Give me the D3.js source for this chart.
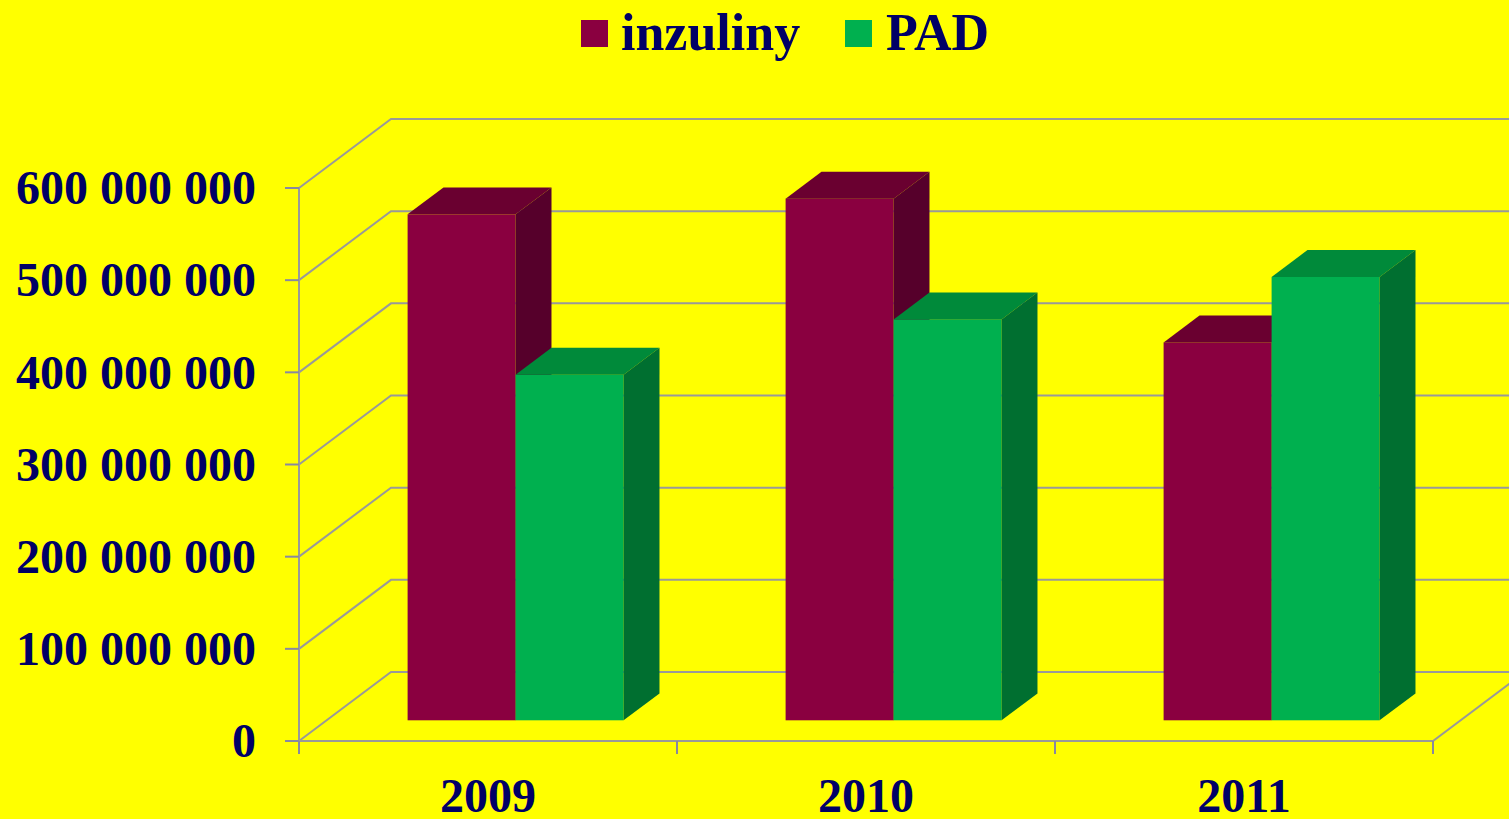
<!DOCTYPE html>
<html>
<head>
<meta charset="utf-8">
<script src="https://cdn.jsdelivr.net/npm/d3@7"></script>
<style>
  html, body { margin: 0; padding: 0; background: #ffff00; }
  #canvas { width: 1509px; height: 819px; }
  text { font-family: "Liberation Serif", "Times New Roman", serif; font-weight: bold; fill: #000066; }
</style>
</head>
<body>
<div id="canvas" class="canvas"></div>
<script>
// data
var years = ['2009', '2010', '2011'];
var series = ['inzuliny', 'PAD'];
var inzuliny = [549000000, 566000000, 410000000];
var pad = [375000000, 435000000, 481000000];
var yTicks = [0, 100000000, 200000000, 300000000, 400000000, 500000000, 600000000];

var colors = {
  inzuliny: {front: '#8a0040', top: '#6a0030', side: '#56002b'},
  PAD: {front: '#00b04f', top: '#008a3a', side: '#006f30'}
};

var W = 1509, H = 819;
var svg = d3.select('.canvas').append('svg')
    .attr('width', W).attr('height', H);

svg.append('rect').attr('width', W).attr('height', H).attr('fill', '#ffff00');

// 3d depth offset (full depth of the floor)
var depth = {dx: 92, dy: -69};
function off(f) { return [depth.dx * f, depth.dy * f]; }

var x = d3.scaleBand().domain(years).range([299, 1433]).paddingInner(0).paddingOuter(0);
var xs = d3.scaleBand().domain(series).range([0, x.bandwidth()]).paddingInner(0).paddingOuter(0.75);
var y = d3.scaleLinear().domain([0, 600000000]).range([741, 188]);

var grid = svg.append('g').attr('class', 'grid');
var gridColor = '#999999';

// side wall + back wall gridlines
yTicks.forEach(function(t){
  var yy = y(t), b = off(1);
  grid.append('path')
    .attr('d', 'M299,' + yy + 'L' + (299 + b[0]) + ',' + (yy + b[1]) + 'L' + W + ',' + (yy + b[1]))
    .attr('fill', 'none').attr('stroke', gridColor).attr('stroke-width', 2);
});

// floor front edge and right edge
var b1 = off(1);
grid.append('path')
  .attr('d', 'M299,' + y(0) + 'L1433,' + y(0) + 'L' + (1433 + b1[0]) + ',' + (y(0) + b1[1]))
  .attr('fill', 'none').attr('stroke', gridColor).attr('stroke-width', 2);

// y axis line and ticks
grid.append('line').attr('x1', 299).attr('x2', 299).attr('y1', y(600000000)).attr('y2', 741)
  .attr('stroke', gridColor).attr('stroke-width', 2);
yTicks.forEach(function(t){
  grid.append('line').attr('x1', 285).attr('x2', 299).attr('y1', y(t)).attr('y2', y(t))
    .attr('stroke', '#8888a0').attr('stroke-width', 2);
});
// x ticks
x.domain().concat(['end']).forEach(function(d, i){
  var xx = 299 + i * x.bandwidth();
  grid.append('line').attr('x1', xx).attr('x2', xx).attr('y1', 741).attr('y2', 754)
    .attr('stroke', '#8888a0').attr('stroke-width', 2);
});

// y labels
var fmt = function(v){ return d3.format(',')(v).replace(/,/g, ' '); };
svg.selectAll('.ylab').data(yTicks).enter().append('text')
  .attr('class', 'ylab')
  .attr('x', 256).attr('y', function(d){ return y(d); })
  .attr('dy', '0.34em')
  .attr('text-anchor', 'end')
  .style('font-size', '48px')
  .text(fmt);

// x labels
svg.selectAll('.xlab').data(years).enter().append('text')
  .attr('class', 'xlab')
  .attr('x', function(d){ return x(d) + x.bandwidth() / 2; })
  .attr('y', 812)
  .attr('text-anchor', 'middle')
  .style('font-size', '48px')
  .text(function(d){ return d; });

// bars
var f0 = 0.30, f1 = 0.69;
var o0 = off(f0), o1 = off(f1);
var bars = [];
years.forEach(function(yr, i){
  bars.push({year: yr, s: 'inzuliny', v: inzuliny[i]});
  bars.push({year: yr, s: 'PAD', v: pad[i]});
});

var gb = svg.append('g').attr('class', 'bars');
bars.forEach(function(d){
  var x0 = x(d.year) + xs(d.s), x1 = x0 + xs.bandwidth();
  var yt = y(d.v), yb = y(0);
  var c = colors[d.s];
  var g = gb.append('g');
  // front
  g.append('rect')
    .attr('x', x0 + o0[0]).attr('y', yt + o0[1])
    .attr('width', x1 - x0).attr('height', yb - yt)
    .attr('fill', c.front);
  // top
  g.append('polygon')
    .attr('points', [[x0 + o0[0], yt + o0[1]], [x1 + o0[0], yt + o0[1]], [x1 + o1[0], yt + o1[1]], [x0 + o1[0], yt + o1[1]]].join(' '))
    .attr('fill', c.top);
  // side
  g.append('polygon')
    .attr('points', [[x1 + o0[0], yt + o0[1]], [x1 + o1[0], yt + o1[1]], [x1 + o1[0], yb + o1[1]], [x1 + o0[0], yb + o0[1]]].join(' '))
    .attr('fill', c.side);
});

// legend
var legend = svg.append('g').attr('class', 'legend');
var legItems = [{s: 'inzuliny', x: 581, tx: 621}, {s: 'PAD', x: 845, tx: 886}];
legItems.forEach(function(l){
  legend.append('rect').attr('x', l.x).attr('y', 20).attr('width', 27).attr('height', 27)
    .attr('fill', colors[l.s].front);
  legend.append('text').attr('x', l.tx).attr('y', 50)
    .style('font-size', '52px').text(l.s);
});
</script>
</body>
</html>
